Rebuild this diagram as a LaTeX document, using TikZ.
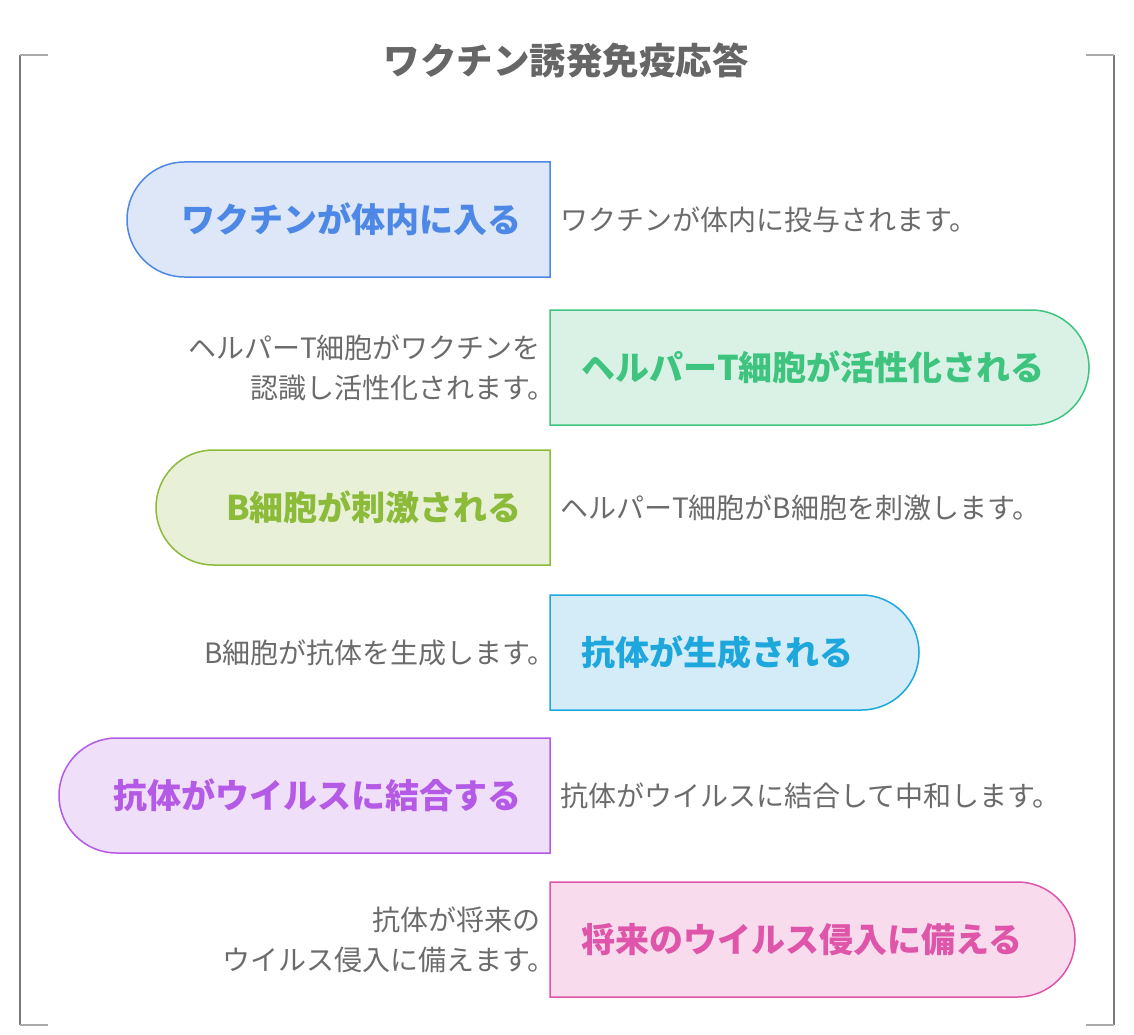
\documentclass[tikz,border=0pt]{standalone}
\usepackage{fontspec}
\setmainfont{Noto Sans CJK JP}
\usetikzlibrary{shapes.misc}
\definecolor{titlegray}{HTML}{666666}
\definecolor{descgray}{HTML}{6B6B6B}
\definecolor{framedark}{HTML}{7A7A7A}
\definecolor{framelight}{HTML}{ABABAB}
\definecolor{bluestroke}{HTML}{4D88E6}
\definecolor{bluefill}{HTML}{DDE7F8}
\definecolor{greenstroke}{HTML}{3EC47F}
\definecolor{greenfill}{HTML}{D9F2E5}
\definecolor{olivestroke}{HTML}{8CBB3A}
\definecolor{olivefill}{HTML}{E8F0D8}
\definecolor{cyanstroke}{HTML}{1EA7DC}
\definecolor{cyanfill}{HTML}{D3ECF7}
\definecolor{purplestroke}{HTML}{B45AE6}
\definecolor{purplefill}{HTML}{F0DFF8}
\definecolor{pinkstroke}{HTML}{DE55A9}
\definecolor{pinkfill}{HTML}{F8DCED}
\newcommand{\maru}{。\kern-15pt}
\begin{document}
\begin{tikzpicture}[x=1pt,y=-1pt,
  stagebox/.style={rounded rectangle, minimum height=115pt, inner sep=0pt, outer sep=0pt, line width=1.5pt},
  leftround/.style={stagebox, rounded rectangle right arc=none, anchor=north east},
  rightround/.style={stagebox, rounded rectangle left arc=none, anchor=north west},
  boxtext/.style={font=\bfseries\fontsize{34}{38}\selectfont, inner sep=0pt},
  desc/.style={font=\fontsize{28}{40}\selectfont, text=descgray, inner sep=0pt},
  framev/.style={draw=framedark, line width=1.3pt},
  frameh/.style={draw=framelight, line width=1.8pt}
]
\useasboundingbox (0,0) rectangle (1134,1035);

% frame brackets
\coordinate (ftl) at (20,55);
\coordinate (fbl) at (20,1025);
\coordinate (ftr) at (1114,55);
\coordinate (fbr) at (1114,1025);
\coordinate (ftlh) at (48,55);
\coordinate (fblh) at (48,1025);
\coordinate (ftrh) at (1086,55);
\coordinate (fbrh) at (1086,1025);
\draw[framev] (ftl) -- (fbl);
\draw[framev] (ftr) -- (fbr);
\draw[frameh] (ftl) -- (ftlh);
\draw[frameh] (fbl) -- (fblh);
\draw[frameh] (ftr) -- (ftrh);
\draw[frameh] (fbr) -- (fbrh);

% title
\node[font=\bfseries\fontsize{36.5}{40}\selectfont, text=titlegray, inner sep=0pt] (title) at (566,61) {ワクチン誘発免疫応答};

% stage boxes
\node[leftround, draw=bluestroke, fill=bluefill, minimum width=423pt] (b1) at (550,162) {};
\node[rightround, draw=greenstroke, fill=greenfill, minimum width=539pt] (b2) at (550,310) {};
\node[leftround, draw=olivestroke, fill=olivefill, minimum width=394pt] (b3) at (550,450) {};
\node[rightround, draw=cyanstroke, fill=cyanfill, minimum width=369pt] (b4) at (550,595) {};
\node[leftround, draw=purplestroke, fill=purplefill, minimum width=491pt] (b5) at (550,738) {};
\node[rightround, draw=pinkstroke, fill=pinkfill, minimum width=525pt] (b6) at (550,882) {};

% box labels
\node[boxtext, text=bluestroke, anchor=east] (t1) at (522,219.5) {ワクチンが体内に入る};
\node[boxtext, text=greenstroke, anchor=west] (t2) at (581,367.5) {ヘルパーT細胞が活性化される};
\node[boxtext, text=olivestroke, anchor=east] (t3) at (522,507.5) {B細胞が刺激される};
\node[boxtext, text=cyanstroke, anchor=west] (t4) at (581,652.5) {抗体が生成される};
\node[boxtext, text=purplestroke, anchor=east] (t5) at (522,795.5) {抗体がウイルスに結合する};
\node[boxtext, text=pinkstroke, anchor=west] (t6) at (581,939.5) {将来のウイルス侵入に備える};

% descriptions
\node[desc, anchor=west] (d1) at (560,219.5) {ワクチンが体内に投与されます。};
\node[desc, anchor=east, align=right] (d2) at (541,367.5) {ヘルパーT細胞がワクチンを\\認識し活性化されます\maru};
\node[desc, anchor=west] (d3) at (560,507.5) {ヘルパーT細胞がB細胞を刺激します。};
\node[desc, anchor=east] (d4) at (541,652.5) {B細胞が抗体を生成します\maru};
\node[desc, anchor=west] (d5) at (560,795.5) {抗体がウイルスに結合して中和します。};
\node[desc, anchor=east, align=right] (d6) at (541,939.5) {抗体が将来の\\ウイルス侵入に備えます\maru};
\end{tikzpicture}
\end{document}
